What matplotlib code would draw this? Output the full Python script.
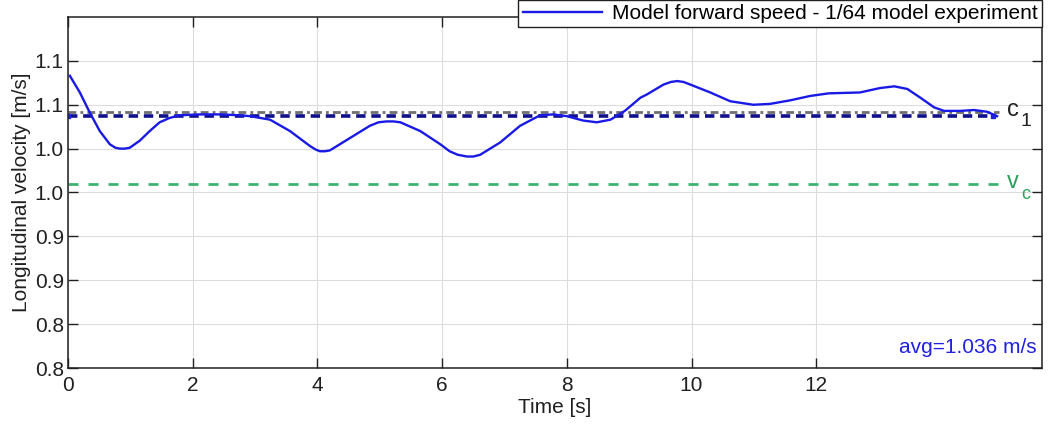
import matplotlib
matplotlib.use("Agg")
import matplotlib.pyplot as plt

plt.rcParams['font.family'] = ['Liberation Sans', 'DejaVu Sans']

# ---- data ----
time_s = [0.03, 0.19, 0.35, 0.51, 0.67, 0.76, 0.83, 0.91, 0.99, 1.15, 1.31, 1.47, 1.63, 1.79,
          2.11, 2.45, 2.75, 2.92, 3.24, 3.56, 3.88, 3.97, 4.04, 4.12, 4.20, 4.52, 4.84, 4.98, 5.11,
          5.22, 5.33, 5.65, 5.97, 6.12, 6.25, 6.40, 6.50, 6.61, 6.93, 7.25, 7.57, 7.78, 8.00,
          8.26, 8.48, 8.70, 8.93, 9.18, 9.29, 9.55, 9.67, 9.77, 9.87, 9.98, 10.30, 10.62, 10.99,
          11.26, 11.58, 11.90, 12.20, 12.70, 13.02, 13.25, 13.46, 13.67, 13.89,
          14.05, 14.31, 14.53, 14.74, 14.90]
speed = [1.133, 1.114, 1.091, 1.070, 1.055, 1.051, 1.050, 1.050, 1.051, 1.059, 1.070, 1.080, 1.085, 1.088,
         1.089, 1.089, 1.088, 1.087, 1.083, 1.070, 1.053, 1.049, 1.047, 1.047, 1.048, 1.062, 1.076, 1.080, 1.081,
         1.081, 1.080, 1.070, 1.055, 1.047, 1.043, 1.041, 1.041, 1.043, 1.057, 1.076, 1.088, 1.089, 1.087,
         1.082, 1.080, 1.083, 1.093, 1.108, 1.112, 1.123, 1.126, 1.127, 1.126, 1.123, 1.114, 1.104, 1.100,
         1.101, 1.105, 1.110, 1.113, 1.114, 1.119, 1.121, 1.118, 1.108, 1.097,
         1.093, 1.093, 1.094, 1.092, 1.087]

ref_span = [0.0, 14.93]          # horizontal reference lines span
mean_span = [0.0, 14.83]
c1_level = 1.092                 # gray dash-dot
mean_level = 1.087               # navy dashed
vc_level = 1.010                 # green dashed

x_ticks = [0, 2, 4, 6, 8, 10, 12]
x_ticklabels = ['0', '2', '4', '6', '8', '10', '12']
y_ticks = [0.80, 0.85, 0.90, 0.95, 1.00, 1.05, 1.10, 1.15]
y_ticklabels = ['0.8', '0.8', '0.9', '0.9', '1.0', '1.0', '1.1', '1.1']

legend_label = 'Model forward speed - 1/64 model experiment'
avg_text = 'avg=1.036 m/s'

# ---- figure ----
fig = plt.figure(figsize=(10.56, 4.26), dpi=100)
ax = fig.add_axes([68 / 1056, 58 / 426, (1042 - 68) / 1056, (368 - 17) / 426])

ax.plot(ref_span, [c1_level, c1_level], color='#707070', lw=2.0,
        linestyle=(0, (2.8, 1.5, 1.0, 1.5)), zorder=2)
ax.plot(mean_span, [mean_level, mean_level], color='#10108a', lw=2.6,
        linestyle=(0, (2.6, 1.6)), marker='s', markersize=3.5, markevery=[0, 1],
        markerfacecolor='#2020e0', markeredgecolor='#2020e0', zorder=2)
ax.plot(ref_span, [vc_level, vc_level], color='#3cb371', lw=2.0,
        linestyle=(0, (3.6, 3.6)), zorder=2)
line, = ax.plot(time_s, speed, color='#1a1ae6', lw=1.7, label=legend_label, zorder=3,
                solid_joinstyle='round')

ax.set_xlim(0, 15.62)
ax.set_ylim(0.8, 1.2)
ax.set_xticks(x_ticks)
ax.set_xticklabels(x_ticklabels)
ax.set_yticks(y_ticks)
ax.set_yticklabels(y_ticklabels)
ax.tick_params(direction='in', length=7, width=1.0, top=True, right=True,
               labelsize=15, colors='#202020')
ax.tick_params(axis='x', pad=6)
ax.tick_params(axis='y', pad=3)
ax.grid(True, color='#dcdcdc', lw=0.8)
ax.set_axisbelow(True)
for s in ax.spines.values():
    s.set_linewidth(1.1)
    s.set_color('#202020')

ax.set_xlabel('Time [s]', fontsize=15, labelpad=2, color='#202020')
ax.set_ylabel('Longitudinal velocity [m/s]', fontsize=15, labelpad=3, color='#202020')

# line labels
ax.text(15.06, c1_level + 0.002, 'c', fontsize=17, color='#202020', va='center', ha='left')
ax.text(15.28, c1_level - 0.011, '1', fontsize=14, color='#202020', va='center', ha='left')
ax.text(15.06, vc_level + 0.002, 'v', fontsize=17, color='#2ca05a', va='center', ha='left')
ax.text(15.28, vc_level - 0.012, 'c', fontsize=13, color='#2ca05a', va='center', ha='left')

ax.text(0.9945, 0.03, avg_text, transform=ax.transAxes, ha='right', va='bottom',
        fontsize=15, color='#2020e0')

leg = fig.legend(handles=[line], loc='upper right', bbox_to_anchor=(1042 / 1056, 1.0),
                 borderaxespad=0, fontsize=15, handlelength=3.8, handletextpad=0.5,
                 fancybox=False, framealpha=1, edgecolor='#202020',
                 borderpad=0.2)
leg.get_frame().set_linewidth(1.0)

fig.savefig('out.png', dpi=100)
